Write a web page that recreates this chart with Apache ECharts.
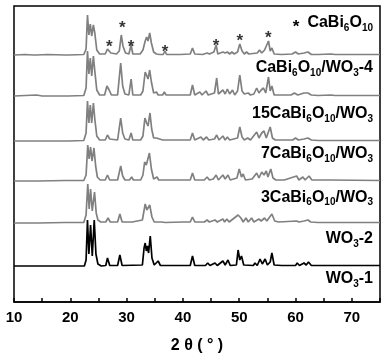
<!DOCTYPE html>
<html><head><meta charset="utf-8">
<script src="https://cdn.jsdelivr.net/npm/echarts@6/dist/echarts.min.js"></script>
<style>html,body{margin:0;padding:0;background:#fff}#c{width:392px;height:361px}</style>
</head><body><div id="c"></div>
<script>
// sample names (top to bottom)
const sampleNames = ['CaBi6O10/WO3-4','15CaBi6O10/WO3','7CaBi6O10/WO3','3CaBi6O10/WO3','WO3-2','WO3-1'];
// vertical stacking offsets (intensity units)
const offsets = [247, 206, 161, 121, 79, 36];
// [2theta, intensity] pairs
const s1 = [[10,0],[12,0.5],[13.4,0],[13.7,2],[14.0,0],[16,0.5],[19.1,0],[19.4,2],[19.7,0],[22.4,0.5],[22.8,6],[23.05,40],[23.3,20],[23.55,31],[23.8,19],[24.1,30],[24.35,22],[24.7,5],[25.2,1],[26.2,1],[26.6,6],[26.9,8],[27.2,2],[28.2,1],[28.7,4],[29.05,20],[29.35,9],[29.8,2],[30.4,1],[30.8,10],[31.1,1],[32.4,1],[32.9,5],[33.3,14],[33.55,18],[33.8,14],[34.1,22],[34.4,12],[34.8,3],[35.3,1],[35.6,2],[35.9,0.5],[36.5,0.5],[36.8,4],[37.1,0.5],[39.5,0.5],[41.3,1],[41.7,7],[42.1,1],[43.5,0.5],[44.3,2],[44.7,1],[45.5,3],[45.9,10],[46.2,1],[47.1,3],[47.5,2],[47.9,3],[48.3,1],[48.7,3],[49.1,1],[49.7,3],[50.1,11],[50.5,4],[50.9,1],[51.3,3],[51.7,1],[53.2,2],[53.6,5],[54.0,2],[54.5,5],[54.8,3],[55.2,14],[55.5,4],[55.8,7],[56.2,1],[57.5,0.5],[59.4,1],[60.0,3],[60.5,1],[61.5,2],[62.2,3],[62.8,0.5],[64,0.5],[66.3,1],[67.0,0.5],[70,0.5],[75,0.5]];
const s2 = [[10,0],[14,1],[15,0],[19.1,0],[19.4,2],[19.7,0],[22.4,0.5],[22.8,8],[23.05,45],[23.3,22],[23.55,38],[23.8,20],[24.1,40],[24.35,25],[24.7,6],[25.2,1],[26.1,1],[26.5,10],[26.9,6],[27.3,1],[28.4,1],[28.95,33],[29.3,10],[29.7,2],[30.4,1],[30.8,17],[31.1,1],[32.5,1],[32.9,5],[33.3,24],[33.6,20],[33.8,17],[34.1,26],[34.4,14],[34.8,3],[35.3,4],[35.6,1],[36.4,1],[36.7,4],[37.0,1],[40,1],[41.3,1],[41.7,11],[42.1,1],[43.0,4],[43.4,1],[44.1,5],[44.5,1],[45.6,3],[46.0,18],[46.3,2],[47.1,6],[47.5,2],[47.9,7],[48.3,2],[48.8,6],[49.2,1],[49.7,5],[50.1,21],[50.5,5],[50.9,2],[51.6,3],[52.0,1],[52.6,2],[53.1,8],[53.5,3],[53.9,6],[54.3,8],[54.7,3],[55.2,19],[55.5,5],[55.8,10],[56.2,1],[57.5,1],[59.2,1],[59.8,3],[60.4,1],[61.5,3],[62.2,3],[62.8,1],[64,0.5],[66.3,1],[67.0,0.5],[75,0.5]];
const s3 = [[10,0],[13.7,0],[14.0,1.5],[14.3,0],[19.1,0],[19.4,1],[19.7,0],[22.4,0.5],[22.8,8],[23.05,40],[23.3,18],[23.55,36],[23.8,18],[24.1,38],[24.35,22],[24.7,5],[25.2,1],[26.2,1],[26.6,6],[27.0,2],[28.4,1],[28.95,23],[29.3,8],[29.7,2],[30.4,1],[30.8,8],[31.1,1],[32.5,1],[32.9,5],[33.25,23],[33.55,18],[33.8,15],[34.15,28],[34.45,12],[34.8,3],[35.3,3],[35.6,1],[36.4,1],[36.7,3],[37.0,1],[40,1],[41.3,1],[41.7,8],[42.1,1],[43.2,4],[43.6,1],[44.2,4],[44.6,1],[45.6,2],[46.0,6],[46.4,1],[47.1,5],[47.5,1],[47.9,4],[48.3,1],[49.7,3],[50.1,14],[50.5,4],[50.9,1],[51.5,3],[52,1],[53.1,9],[53.5,3],[54.0,8],[54.4,10],[54.8,3],[55.5,14],[55.9,3],[56.4,1],[58,1],[59.5,1],[60.0,3],[60.5,1],[61.5,2],[62.2,3],[62.8,1],[64,0.5],[75,0.5]];
const s4 = [[10,0],[13.7,0],[14.0,1],[14.3,0],[19,0.5],[22.4,0.5],[22.8,6],[23.1,36],[23.35,22],[23.6,34],[23.85,20],[24.2,33],[24.5,15],[24.8,4],[25.3,1],[26.2,1],[26.6,6],[27.0,1],[28.4,1],[28.95,15],[29.3,5],[29.7,1],[30.5,1],[30.9,4],[31.2,1],[32.5,1],[32.9,6],[33.2,19],[33.5,16],[33.75,14],[34.05,28],[34.4,12],[34.8,2],[35.4,4],[35.7,1],[36.4,1],[36.7,3],[37.0,1],[40,1],[41.3,1],[41.7,8],[42.1,1],[43.8,1],[44.3,4],[44.7,1],[45.4,2],[45.9,6],[46.3,1],[47.1,6],[47.5,2],[48.0,6],[48.4,1],[49.6,3],[50.0,12],[50.4,4],[50.7,7],[51.1,1],[52.3,2],[53.1,8],[53.5,3],[54.0,9],[54.4,6],[54.8,10],[55.1,4],[55.6,12],[56,3],[56.5,1],[58,1],[60.2,5],[60.6,1],[61.3,4],[61.7,1],[62.4,5],[62.9,1],[64,1],[66,1],[75,0.5]];
const s5 = [[10,0],[13.7,0],[14.0,2],[14.3,0],[19,0.5],[22.4,0.5],[22.8,8],[23.1,39],[23.35,14],[23.6,34],[23.9,12],[24.3,31],[24.6,10],[24.9,3],[25.4,1],[26.3,1],[26.7,5],[27.1,1],[28.4,1],[28.8,9],[29.2,1],[31,1],[32.8,3],[33.3,19],[33.6,13],[34.1,18],[34.5,6],[34.9,1],[35.2,2],[35.6,1],[36.2,1],[36.5,2],[36.9,0.5],[40,1],[41.3,1],[41.7,6],[42.1,1],[43.8,1],[44.3,3],[44.7,1],[45.7,3],[46.1,1],[47.1,4],[47.4,1],[47.8,4],[48.2,1],[49.8,8],[50.3,5],[50.7,1],[51.2,5],[51.6,1],[52.2,5],[52.6,1],[53.5,4],[53.9,2],[54.5,5],[54.9,2],[55.8,9],[56.3,2],[57,1],[60.2,2],[60.6,1],[61.5,2],[62.2,3],[62.7,1],[64,0.5],[75,0.5]];
const s6 = [[10,0],[22.5,0],[22.8,6],[23.05,46],[23.3,12],[23.6,41],[23.9,10],[24.25,46],[24.55,12],[24.9,2],[25.5,0],[26.3,0.5],[26.6,8],[27.0,0.5],[28.4,0.5],[28.8,11],[29.2,0.5],[32.8,1],[33.1,18],[33.3,23],[33.5,15],[33.7,20],[33.9,13],[34.2,30],[34.5,8],[34.9,1],[35.6,5],[36.0,0.5],[41.3,0.5],[41.7,10],[42.1,0.5],[44.0,0.5],[44.4,3],[44.8,0.5],[45.7,3],[46.1,0.5],[47.1,5],[47.5,1],[48.0,6],[48.4,0.5],[49.5,1],[49.8,16],[50.1,6],[50.4,10],[50.8,1],[52.5,0.5],[52.8,3],[53.2,0.5],[53.7,7],[54.1,2],[54.6,7],[55.0,1],[55.5,4],[55.8,13],[56.2,1],[57.5,0.5],[60.0,0.5],[60.3,3],[60.7,0.5],[61.5,3],[61.9,1],[62.3,4],[62.8,0.5],[67.1,0.5],[67.4,2],[67.8,0.5],[71.5,0.5],[71.8,2],[72.2,0.5],[75,0.5]];
// CaBi6O10 marker positions (2theta, height in plot units)
const starX = [26.93, 29.24, 30.78, 36.82, 45.88, 50.09, 55.17];
const starY = [259, 277.3, 259, 254, 259.7, 265, 268];
const xTicks = [10, 20, 30, 40, 50, 60, 70];

const profiles = [s1, s2, s3, s4, s5, s6];
const grey = '#808080';
const lineColors = [grey, grey, grey, grey, grey, '#000'];

const chart = echarts.init(document.getElementById('c'), null, {renderer: 'canvas'});
const FONT = 'Liberation Sans, Arial, sans-serif';

const series = profiles.map((p, i) => ({
  type: 'line', name: sampleNames[i], showSymbol: false, symbol: 'none',
  data: p.map(d => [d[0], d[1] + offsets[i]]),
  lineStyle: {color: lineColors[i], width: 1.7}, silent: true, animation: false, z: 2
}));
series.push({
  type: 'scatter', symbolSize: 0, silent: true, animation: false,
  data: starX.map((x, i) => [x, starY[i]]),
  label: {show: true, position: 'inside', formatter: '*', color: '#000', fontSize: 17, fontWeight: 'bold', fontFamily: FONT, offset: [0, 4]}
});

function rich(color) {
  return {
    n: {fontSize: 16, fontWeight: 'bold', color: color, fontFamily: FONT, lineHeight: 20},
    s: {fontSize: 10, fontWeight: 'bold', color: color, fontFamily: FONT, lineHeight: 9, verticalAlign: 'bottom'}
  };
}
const labelTexts = [
  '{n|CaBi}{s|6}{n|O}{s|10}{n|/WO}{s|3}{n|-4}',
  '{n|15CaBi}{s|6}{n|O}{s|10}{n|/WO}{s|3}',
  '{n|7CaBi}{s|6}{n|O}{s|10}{n|/WO}{s|3}',
  '{n|3CaBi}{s|6}{n|O}{s|10}{n|/WO}{s|3}',
  '{n|WO}{s|3}{n|-2}',
  '{n|WO}{s|3}{n|-1}'
];
const labelY = [68, 114, 154, 197.5, 239, 279];
const graphic = labelTexts.map((t, i) => ({
  type: 'text', x: 373, y: labelY[i], z: 10,
  style: {text: t, rich: rich(i === 5 ? '#000' : grey), align: 'right', verticalAlign: 'middle'}
}));
graphic.push({type: 'text', x: 373, y: 23, z: 10,
  style: {text: '{n|CaBi}{s|6}{n|O}{s|10}', rich: rich('#000'), align: 'right', verticalAlign: 'middle'}});
graphic.push({type: 'text', x: 296, y: 27, z: 10,
  style: {text: '*', fill: '#000', font: 'bold 17px ' + FONT, align: 'center', verticalAlign: 'middle'}});

chart.setOption({
  animation: false,
  backgroundColor: '#fff',
  grid: {left: 14, right: 12, top: 6, bottom: 59, show: true, borderColor: '#000', borderWidth: 1.5},
  xAxis: {
    type: 'value', min: 10, max: 75, interval: 5,
    name: '2 θ ( ° )', nameLocation: 'middle', nameGap: 36,
    nameTextStyle: {fontSize: 16, fontWeight: 'bold', color: '#000', fontFamily: FONT},
    axisLine: {lineStyle: {color: '#000', width: 1.5}},
    axisTick: {inside: true, length: 4, lineStyle: {color: '#000', width: 1.5}},
    axisLabel: {fontSize: 15, fontWeight: 'bold', color: '#000', fontFamily: FONT, margin: 8,
      formatter: v => xTicks.indexOf(v) >= 0 ? String(v) : ''},
    splitLine: {show: false}
  },
  yAxis: {type: 'value', min: 0, max: 296, show: false, splitLine: {show: false}},
  series: series,
  graphic: graphic
});
</script></body></html>
